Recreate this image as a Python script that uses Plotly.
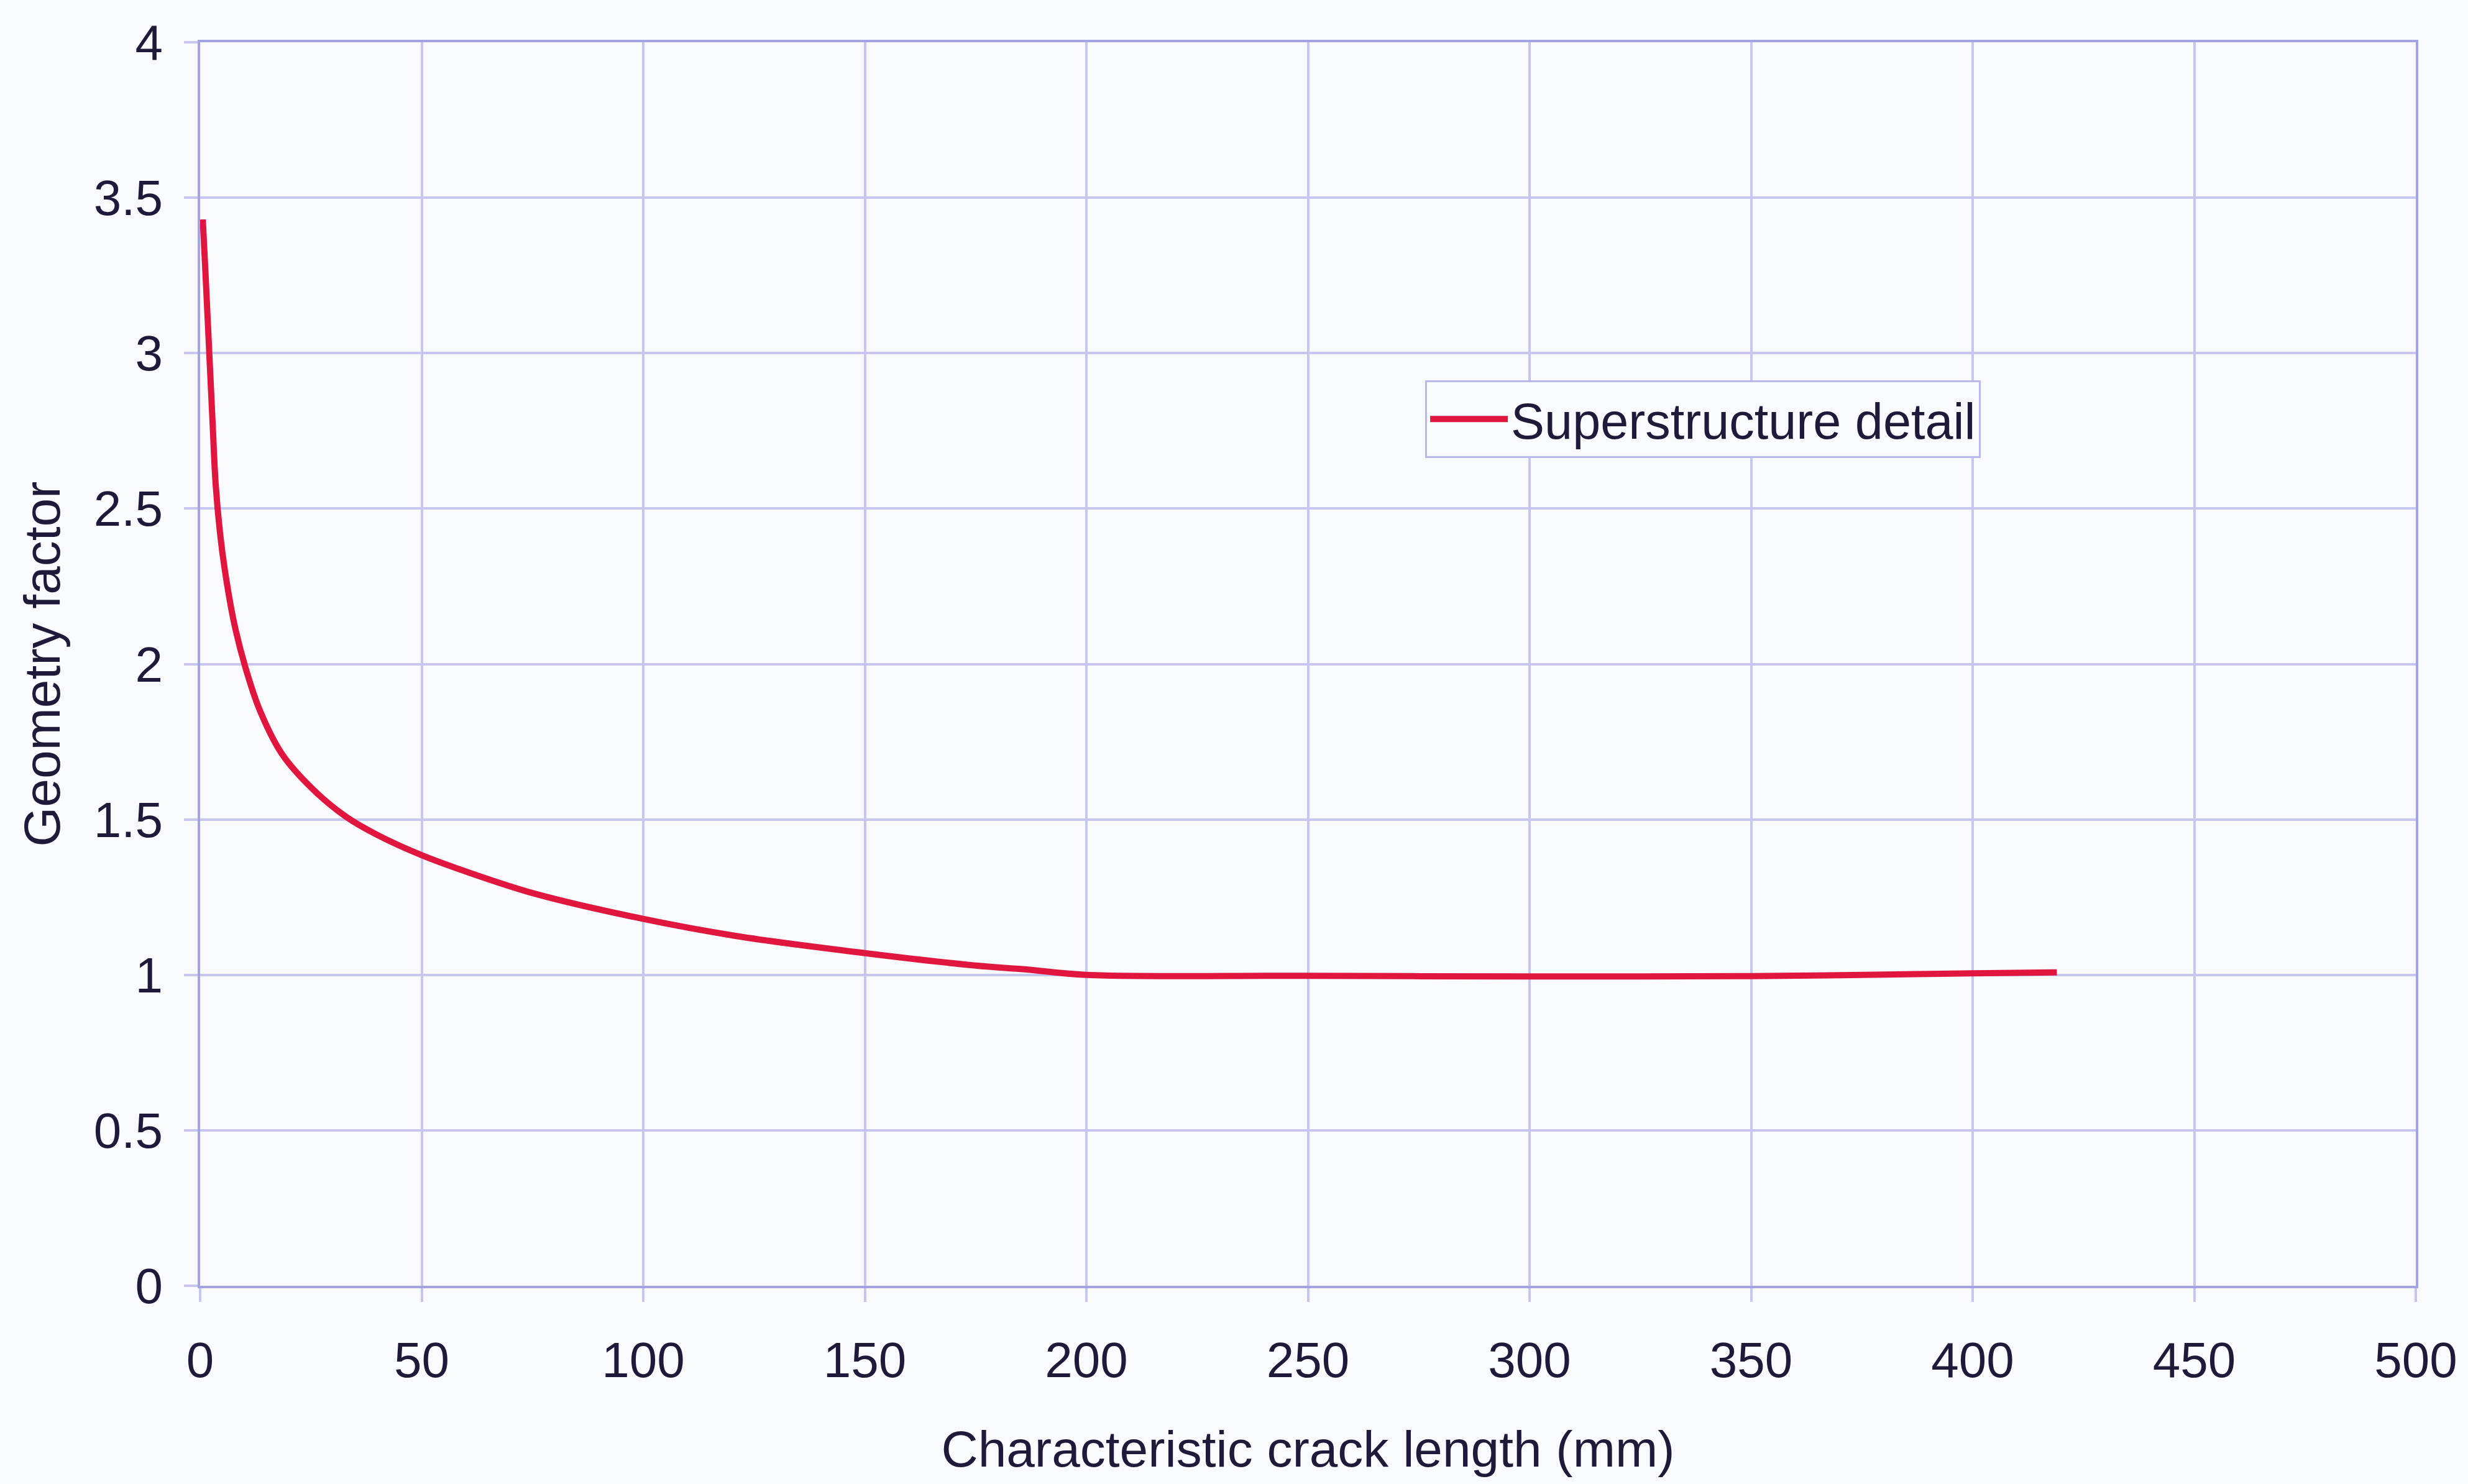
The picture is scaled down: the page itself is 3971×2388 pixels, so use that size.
import plotly.graph_objects as go

# Geometry factor vs characteristic crack length for the superstructure detail
crack_length_mm = [0.6, 1.2, 2.0, 2.8, 3.5, 4.5, 5.6, 7.7, 10.2, 13.5, 18.5, 25.6,
                   32.8, 40, 50, 61.5, 75.8, 100, 121, 150, 175, 186,
                   200, 250, 300, 350, 400, 419]
geometry_factor = [3.43, 3.26, 3.02, 2.78, 2.58, 2.42, 2.30, 2.13, 1.99, 1.85, 1.71, 1.595,
                   1.51, 1.45, 1.385, 1.325, 1.26, 1.18, 1.125, 1.07, 1.03, 1.018,
                   1.0, 0.997, 0.995, 0.996, 1.005, 1.008]
series_name = "Superstructure detail"

x_ticks = [0, 50, 100, 150, 200, 250, 300, 350, 400, 450, 500]
y_ticks = [0, 0.5, 1, 1.5, 2, 2.5, 3, 3.5, 4]
y_tick_text = ["0", "0.5", "1", "1.5", "2", "2.5", "3", "3.5", "4"]

FONT = "Liberation Sans, Arial, sans-serif"
TEXT = "#1f1a3a"
GRID = "#c6c6f1"
AXIS = "#a4a4e4"
BG = "#f8fafd"

fig = go.Figure()
fig.add_trace(go.Scatter(
    x=crack_length_mm, y=geometry_factor, mode="lines", name=series_name,
    line=dict(color="#e0163f", width=10, shape="spline", smoothing=1.0),
))

axis_common = dict(
    showgrid=True, gridcolor=GRID, gridwidth=4,
    showline=True, linecolor=AXIS, linewidth=4, mirror=True,
    ticks="outside", ticklen=22, tickwidth=4, tickcolor=GRID,
    zeroline=False,
    tickfont=dict(family=FONT, size=80, color=TEXT),
)

fig.update_xaxes(
    range=[0, 500], tickvals=x_ticks, ticktext=[str(v) for v in x_ticks],
    title=dict(text="Characteristic crack length (mm)",
               font=dict(family=FONT, size=82, color=TEXT), standoff=72),
    ticklabelstandoff=25,
    **axis_common,
)
fig.update_yaxes(
    range=[0, 4], tickvals=y_ticks, ticktext=y_tick_text,
    title=dict(text="Geometry factor",
               font=dict(family=FONT, size=82, color=TEXT), standoff=28),
    ticklabelstandoff=18,
    **axis_common,
)

fig.update_layout(
    width=3971, height=2388,
    margin=dict(l=322, r=84, t=68, b=319),
    paper_bgcolor=BG, plot_bgcolor=BG,
    showlegend=True,
    legend=dict(
        x=0.5529, y=0.7281, xanchor="left", yanchor="top",
        bgcolor=BG, bordercolor="#b8b8ec", borderwidth=3,
        font=dict(family=FONT, size=81, color=TEXT),
        itemwidth=125,
    ),
)

fig.write_html("out.html")
